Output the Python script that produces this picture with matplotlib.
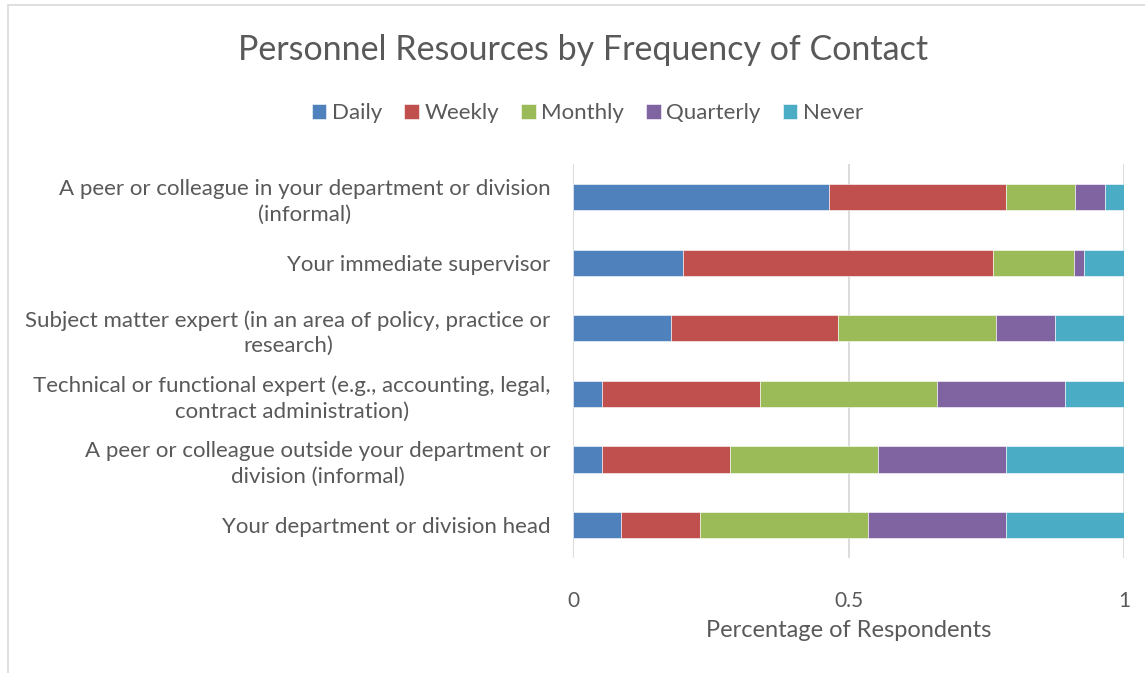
import matplotlib
matplotlib.use("Agg")
import matplotlib.pyplot as plt
import numpy as np
from matplotlib.patches import Rectangle

# data (share of respondents)
categories = [
    "A peer or colleague in your department or division\n(informal)",
    "Your immediate supervisor",
    "Subject matter expert (in an area of policy, practice or\nresearch)",
    "Technical or functional expert (e.g., accounting, legal,\ncontract administration)",
    "A peer or colleague outside your department or\ndivision (informal)",
    "Your department or division head",
]
daily = [0.464, 0.199, 0.178, 0.052, 0.052, 0.088]
weekly = [0.321, 0.564, 0.303, 0.287, 0.233, 0.143]
monthly = [0.126, 0.147, 0.287, 0.321, 0.268, 0.305]
quarterly = [0.054, 0.018, 0.106, 0.232, 0.232, 0.249]
never = [0.035, 0.072, 0.126, 0.108, 0.215, 0.215]

series_names = ["Daily", "Weekly", "Monthly", "Quarterly", "Never"]
colors = ["#4F81BD", "#C0504D", "#9BBB59", "#8064A2", "#4BACC6"]
text_col = "#595959"

plt.rcParams['font.family'] = ['Lato', 'DejaVu Sans']

fig = plt.figure(figsize=(11.45, 6.73), dpi=100)
ax = fig.add_axes([0.5004, 0.171, 0.4813, 0.585])

ypos = np.arange(len(categories))
left = np.zeros(len(categories))
for name, vals, col in zip(series_names, [daily, weekly, monthly, quarterly, never], colors):
    ax.barh(ypos, vals, left=left, height=0.4, color=col, label=name,
            edgecolor="white", linewidth=0.4, zorder=3)
    left = left + np.array(vals)

ax.set_ylim(len(categories) - 0.5, -0.5)
ax.set_xlim(0, 1)
ax.set_xticks([0, 0.5, 1])
ax.set_xticklabels(["0", "0.5", "1"])
ax.set_yticks(ypos)
ax.set_yticklabels(categories, multialignment="center", linespacing=1.35)
ax.grid(axis="x", color="#D9D9D9", linewidth=1.3, zorder=0)
for s in ax.spines.values():
    s.set_visible(False)
ax.tick_params(axis="both", length=0, colors=text_col)
ax.tick_params(axis="y", pad=16, labelsize=16)
ax.tick_params(axis="x", pad=24, labelsize=15)
ax.set_xlabel("Percentage of Respondents", fontsize=17, color=text_col, labelpad=6)

fig.suptitle("Personnel Resources by Frequency of Contact", fontsize=24.5,
             color=text_col, x=0.509, y=0.95)
fig.legend(loc="center", bbox_to_anchor=(0.513, 0.832), ncol=5, frameon=False,
           fontsize=16, handlelength=0.65, handleheight=0.65, handletextpad=0.25,
           columnspacing=1.0, labelcolor=text_col)

# chart border like the reference
fig.patches.append(Rectangle((0.007, -0.01), 1.0, 1.003, transform=fig.transFigure,
                             fill=False, edgecolor="#D9D9D9", linewidth=1.2))

fig.savefig("out.png", dpi=100)
